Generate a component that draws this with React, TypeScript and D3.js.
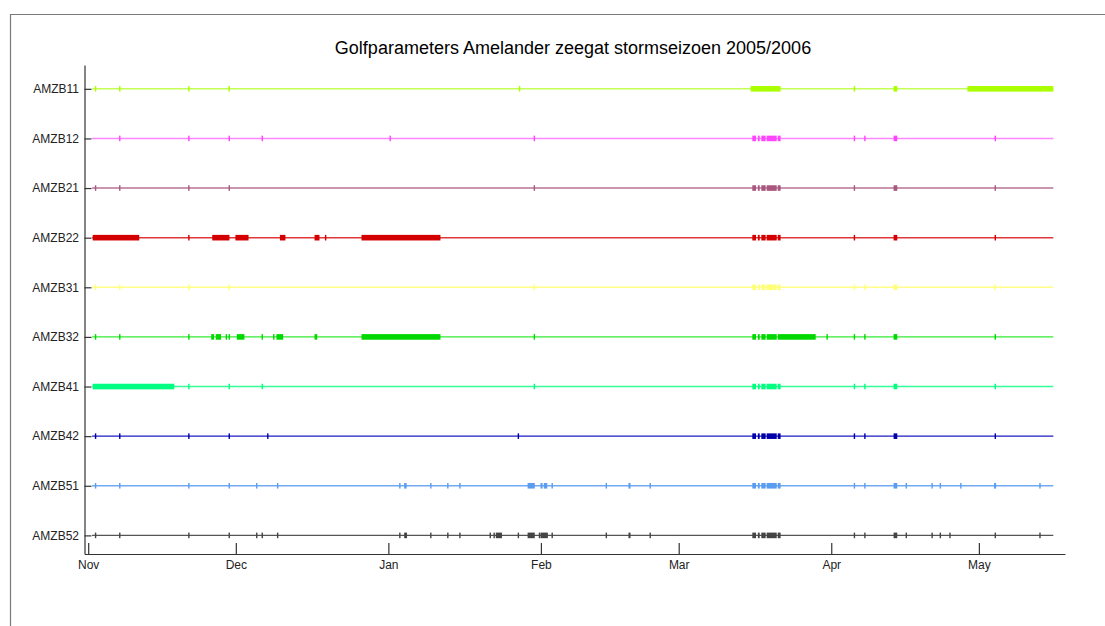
import React, { useEffect, useRef } from 'react';
import * as d3 from 'd3';

// stations, top to bottom
const stations = ['AMZB11', 'AMZB12', 'AMZB21', 'AMZB22', 'AMZB31', 'AMZB32', 'AMZB41', 'AMZB42', 'AMZB51', 'AMZB52'];
const markColors = ['#aaff00', '#ff44ff', '#a8587f', '#d40000', '#ffff77', '#00d800', '#00ff80', '#0000a8', '#5a9df0', '#444444'];
const lineColors = ['#c4ff55', '#ff88ff', '#b77295', '#e03838', '#ffff88', '#33ec33', '#33ff99', '#1c1cc0', '#70abf2', '#555555'];

const monthTicks = ['2005-11-01 00', '2005-12-01 00', '2006-01-01 00', '2006-02-01 00', '2006-03-01 00', '2006-04-01 00', '2006-05-01 00'];
const axisStart = '2005-10-31 06';
const axisEnd = '2006-05-18 12';
const seasonStart = '2005-11-01 19';
const seasonEnd = '2006-05-16 03';

// recorded periods per station [start, end]; start == end for single records
const amzb11 = [
  ['2005-11-02 12', '2005-11-02 12'], ['2005-11-07 10', '2005-11-07 10'], ['2005-11-21 11', '2005-11-21 11'],
  ['2005-11-29 16', '2005-11-29 16'], ['2006-01-27 16', '2006-01-27 20'], ['2006-03-15 15', '2006-03-21 17'],
  ['2006-04-05 17', '2006-04-05 17'], ['2006-04-13 16', '2006-04-14 10'], ['2006-04-28 16', '2006-05-16 03'],
];
const amzb12 = [
  ['2005-11-07 10', '2005-11-07 10'], ['2005-11-21 11', '2005-11-21 11'], ['2005-11-29 16', '2005-11-29 16'],
  ['2005-12-06 09', '2005-12-06 09'], ['2006-01-01 09', '2006-01-01 09'], ['2006-01-30 16', '2006-01-30 16'],
  ['2006-03-15 23', '2006-03-16 17'], ['2006-03-17 02', '2006-03-17 11'], ['2006-03-17 19', '2006-03-18 16'],
  ['2006-03-18 21', '2006-03-20 22'], ['2006-03-21 03', '2006-03-21 17'], ['2006-04-05 17', '2006-04-05 17'],
  ['2006-04-07 20', '2006-04-07 20'], ['2006-04-13 16', '2006-04-14 10'], ['2006-05-04 08', '2006-05-04 08'],
];
const amzb21 = [
  ['2005-11-02 12', '2005-11-02 12'], ['2005-11-07 10', '2005-11-07 10'], ['2005-11-21 11', '2005-11-21 11'],
  ['2005-11-29 16', '2005-11-29 16'], ['2006-01-30 16', '2006-01-30 16'],
  ['2006-03-15 23', '2006-03-16 17'], ['2006-03-17 02', '2006-03-17 11'], ['2006-03-17 19', '2006-03-18 16'],
  ['2006-03-18 21', '2006-03-20 22'], ['2006-03-21 03', '2006-03-21 17'], ['2006-04-05 17', '2006-04-05 17'],
  ['2006-04-13 16', '2006-04-14 10'], ['2006-05-04 08', '2006-05-04 08'],
];
const amzb22 = [
  ['2005-11-01 22', '2005-11-11 09'], ['2005-11-21 11', '2005-11-21 11'], ['2005-11-26 05', '2005-11-29 17'],
  ['2005-11-30 22', '2005-12-03 14'], ['2005-12-09 23', '2005-12-11 02'], ['2005-12-17 00', '2005-12-18 00'],
  ['2005-12-19 06', '2005-12-19 06'], ['2005-12-26 13', '2006-01-11 14'],
  ['2006-03-15 23', '2006-03-16 17'], ['2006-03-17 02', '2006-03-17 11'], ['2006-03-17 19', '2006-03-18 16'],
  ['2006-03-18 21', '2006-03-20 22'], ['2006-03-21 03', '2006-03-21 17'], ['2006-04-05 17', '2006-04-05 17'],
  ['2006-04-13 16', '2006-04-14 10'], ['2006-05-04 08', '2006-05-04 08'],
];
const amzb31 = [
  ['2005-11-02 12', '2005-11-02 12'], ['2005-11-07 10', '2005-11-07 10'], ['2005-11-21 11', '2005-11-21 11'],
  ['2005-11-29 16', '2005-11-29 16'], ['2006-01-30 16', '2006-01-30 16'],
  ['2006-03-15 23', '2006-03-16 17'], ['2006-03-17 02', '2006-03-17 11'], ['2006-03-17 19', '2006-03-18 16'],
  ['2006-03-18 21', '2006-03-20 22'], ['2006-03-21 03', '2006-03-21 17'], ['2006-04-05 17', '2006-04-05 17'],
  ['2006-04-07 20', '2006-04-07 20'], ['2006-04-13 16', '2006-04-14 10'], ['2006-05-04 08', '2006-05-04 08'],
];
const amzb32 = [
  ['2005-11-02 12', '2005-11-02 12'], ['2005-11-07 10', '2005-11-07 10'], ['2005-11-21 11', '2005-11-21 11'],
  ['2005-11-26 00', '2005-11-26 14'], ['2005-11-26 22', '2005-11-28 00'], ['2005-11-29 02', '2005-11-29 02'],
  ['2005-11-29 16', '2005-11-29 16'], ['2005-12-01 05', '2005-12-02 18'], ['2005-12-06 09', '2005-12-06 09'],
  ['2005-12-08 17', '2005-12-08 17'], ['2005-12-09 06', '2005-12-10 15'], ['2005-12-17 00', '2005-12-17 13'],
  ['2005-12-26 13', '2006-01-11 14'], ['2006-01-30 16', '2006-01-30 16'],
  ['2006-03-15 23', '2006-03-16 17'], ['2006-03-17 02', '2006-03-17 11'], ['2006-03-17 19', '2006-03-18 16'],
  ['2006-03-18 21', '2006-03-20 22'], ['2006-03-21 03', '2006-03-28 20'], ['2006-03-31 04', '2006-03-31 04'],
  ['2006-04-05 17', '2006-04-05 17'], ['2006-04-07 20', '2006-04-07 20'], ['2006-04-13 16', '2006-04-14 10'],
  ['2006-05-04 08', '2006-05-04 08'],
];
const amzb41 = [
  ['2005-11-01 22', '2005-11-18 12'], ['2005-11-21 11', '2005-11-21 11'], ['2005-11-29 16', '2005-11-29 16'],
  ['2005-12-06 09', '2005-12-06 09'], ['2006-01-30 16', '2006-01-30 16'],
  ['2006-03-15 23', '2006-03-16 17'], ['2006-03-17 02', '2006-03-17 11'], ['2006-03-17 19', '2006-03-18 16'],
  ['2006-03-18 21', '2006-03-20 22'], ['2006-03-21 03', '2006-03-21 17'], ['2006-04-05 17', '2006-04-05 17'],
  ['2006-04-07 20', '2006-04-07 20'], ['2006-04-13 16', '2006-04-14 10'], ['2006-05-04 08', '2006-05-04 08'],
];
const amzb42 = [
  ['2005-11-02 12', '2005-11-02 12'], ['2005-11-07 10', '2005-11-07 10'], ['2005-11-21 11', '2005-11-21 11'],
  ['2005-11-29 16', '2005-11-29 16'], ['2005-12-07 12', '2005-12-07 12'], ['2006-01-27 10', '2006-01-27 14'],
  ['2006-03-15 23', '2006-03-16 17'], ['2006-03-17 02', '2006-03-17 11'], ['2006-03-17 19', '2006-03-18 16'],
  ['2006-03-18 21', '2006-03-20 22'], ['2006-03-21 03', '2006-03-21 17'], ['2006-04-05 17', '2006-04-05 17'],
  ['2006-04-07 20', '2006-04-07 20'], ['2006-04-13 16', '2006-04-14 10'], ['2006-05-04 08', '2006-05-04 08'],
];
const amzb51 = [
  ['2005-11-02 12', '2005-11-02 12'], ['2005-11-07 10', '2005-11-07 10'], ['2005-11-21 11', '2005-11-21 11'],
  ['2005-11-29 16', '2005-11-29 16'], ['2005-12-05 06', '2005-12-05 06'], ['2005-12-09 12', '2005-12-09 15'],
  ['2006-01-03 08', '2006-01-03 08'], ['2006-01-04 05', '2006-01-04 17'], ['2006-01-09 15', '2006-01-09 15'],
  ['2006-01-13 02', '2006-01-13 02'], ['2006-01-15 13', '2006-01-15 19'], ['2006-01-29 07', '2006-01-30 18'],
  ['2006-01-31 22', '2006-02-01 08'], ['2006-02-01 14', '2006-02-02 07'], ['2006-02-03 07', '2006-02-03 07'],
  ['2006-02-14 07', '2006-02-14 07'], ['2006-02-18 19', '2006-02-19 05'], ['2006-02-23 05', '2006-02-23 05'],
  ['2006-03-15 23', '2006-03-16 17'], ['2006-03-17 02', '2006-03-17 11'], ['2006-03-17 19', '2006-03-18 16'],
  ['2006-03-18 21', '2006-03-20 22'], ['2006-03-21 03', '2006-03-21 17'], ['2006-04-05 17', '2006-04-05 17'],
  ['2006-04-07 20', '2006-04-07 20'], ['2006-04-13 16', '2006-04-14 10'], ['2006-04-16 06', '2006-04-16 06'],
  ['2006-04-21 12', '2006-04-21 12'], ['2006-04-23 04', '2006-04-23 04'], ['2006-04-27 08', '2006-04-27 08'],
  ['2006-05-04 02', '2006-05-04 12'], ['2006-05-13 10', '2006-05-13 10'],
];
const amzb52 = [
  ['2005-11-02 12', '2005-11-02 12'], ['2005-11-07 10', '2005-11-07 10'], ['2005-11-21 11', '2005-11-21 11'],
  ['2005-11-29 16', '2005-11-29 16'], ['2005-12-05 06', '2005-12-05 06'], ['2005-12-06 09', '2005-12-06 09'],
  ['2005-12-09 12', '2005-12-09 15'], ['2006-01-03 08', '2006-01-03 08'], ['2006-01-04 05', '2006-01-04 19'],
  ['2006-01-09 15', '2006-01-09 15'], ['2006-01-13 02', '2006-01-13 02'], ['2006-01-15 13', '2006-01-15 19'],
  ['2006-01-21 17', '2006-01-21 17'], ['2006-01-22 12', '2006-01-22 12'], ['2006-01-22 20', '2006-01-24 02'],
  ['2006-01-27 10', '2006-01-27 10'], ['2006-01-29 07', '2006-01-30 18'], ['2006-01-31 17', '2006-01-31 17'],
  ['2006-01-31 22', '2006-02-02 10'], ['2006-02-03 07', '2006-02-03 07'], ['2006-02-14 07', '2006-02-14 07'],
  ['2006-02-18 19', '2006-02-19 05'], ['2006-02-23 05', '2006-02-23 05'],
  ['2006-03-15 23', '2006-03-16 17'], ['2006-03-17 02', '2006-03-17 11'], ['2006-03-17 19', '2006-03-18 16'],
  ['2006-03-18 21', '2006-03-20 22'], ['2006-03-21 03', '2006-03-21 17'], ['2006-04-05 17', '2006-04-05 17'],
  ['2006-04-07 20', '2006-04-07 20'], ['2006-04-13 16', '2006-04-14 10'], ['2006-04-16 06', '2006-04-16 06'],
  ['2006-04-21 12', '2006-04-21 12'], ['2006-04-23 04', '2006-04-23 04'], ['2006-04-25 03', '2006-04-25 03'],
  ['2006-05-04 08', '2006-05-04 08'], ['2006-05-13 10', '2006-05-13 10'],
];
const periods = [amzb11, amzb12, amzb21, amzb22, amzb31, amzb32, amzb41, amzb42, amzb51, amzb52];

const parse = d3.timeParse('%Y-%m-%d %H');

const App = () => {
  const svgRef = useRef<SVGSVGElement>(null);

  useEffect(() => {
    const svg = d3.select(svgRef.current);
    svg.selectAll('*').remove();
    const width = 1105;
    const height = 626;
    const font = '"Liberation Sans", Arial, sans-serif';

    const x = d3.scaleTime()
      .domain([parse(axisStart)!, parse(axisEnd)!])
      .range([84.5, 1065]);
    // row index 0 = top station; domain padded so the axis line runs past first/last row
    const y = d3.scaleLinear().domain([-0.48, 9.375]).range([65, 554]);

    svg.attr('width', width).attr('height', height);

    // figure frame (top and left edge only)
    svg.append('path')
      .attr('d', `M10.5,${height} V14.5 H${width}`)
      .attr('fill', 'none')
      .attr('stroke', '#7a7a7a')
      .attr('stroke-width', 1.2);

    svg.append('text')
      .attr('x', 573)
      .attr('y', 53.5)
      .attr('text-anchor', 'middle')
      .attr('font-family', font)
      .attr('font-size', 18)
      .attr('fill', '#000')
      .text('Golfparameters Amelander zeegat stormseizoen 2005/2006');

    const rows = svg.append('g').selectAll('g')
      .data(stations)
      .enter()
      .append('g');

    rows.append('line')
      .attr('x1', x(parse(seasonStart)!))
      .attr('x2', x(parse(seasonEnd)!))
      .attr('y1', (d, i) => y(i))
      .attr('y2', (d, i) => y(i))
      .attr('stroke', (d, i) => lineColors[i])
      .attr('stroke-width', 1.4);

    rows.each(function (d, i) {
      d3.select(this).selectAll('rect')
        .data(periods[i])
        .enter()
        .append('rect')
        .attr('x', p => {
          const x0 = x(parse(p[0])!);
          const w = x(parse(p[1])!) - x0;
          return w < 1.4 ? x0 - 0.7 : x0;
        })
        .attr('width', p => Math.max(1.4, x(parse(p[1])!) - x(parse(p[0])!)))
        .attr('y', y(i) - 2.8)
        .attr('height', 5.6)
        .attr('fill', markColors[i]);
    });

    // y axis, ticks pointing inwards
    const yAxis = d3.axisLeft(y)
      .tickValues(d3.range(stations.length))
      .tickFormat(i => stations[i as number])
      .tickSizeInner(-7)
      .tickSizeOuter(0)
      .tickPadding(5.5);

    const gy = svg.append('g').attr('transform', 'translate(84.5,0)').call(yAxis);
    gy.selectAll('text').attr('font-size', 12).attr('font-family', font).attr('fill', '#222');
    gy.selectAll('line, path').attr('stroke', '#333').attr('stroke-width', 1.2);

    const xAxis = d3.axisBottom(x)
      .tickValues(monthTicks.map(m => parse(m)!))
      .tickFormat(d3.timeFormat('%b') as any)
      .tickSizeInner(-11)
      .tickSizeOuter(0)
      .tickPadding(6);

    const gx = svg.append('g').attr('transform', 'translate(0,554)').call(xAxis);
    gx.selectAll('text').attr('font-size', 12).attr('font-family', font).attr('fill', '#222');
    gx.selectAll('line, path').attr('stroke', '#333').attr('stroke-width', 1.2);
  }, []);

  return (
    <div style={{ position: 'absolute', left: 0, top: 0 }}>
      <svg ref={svgRef}></svg>
    </div>
  );
};

export default App;
